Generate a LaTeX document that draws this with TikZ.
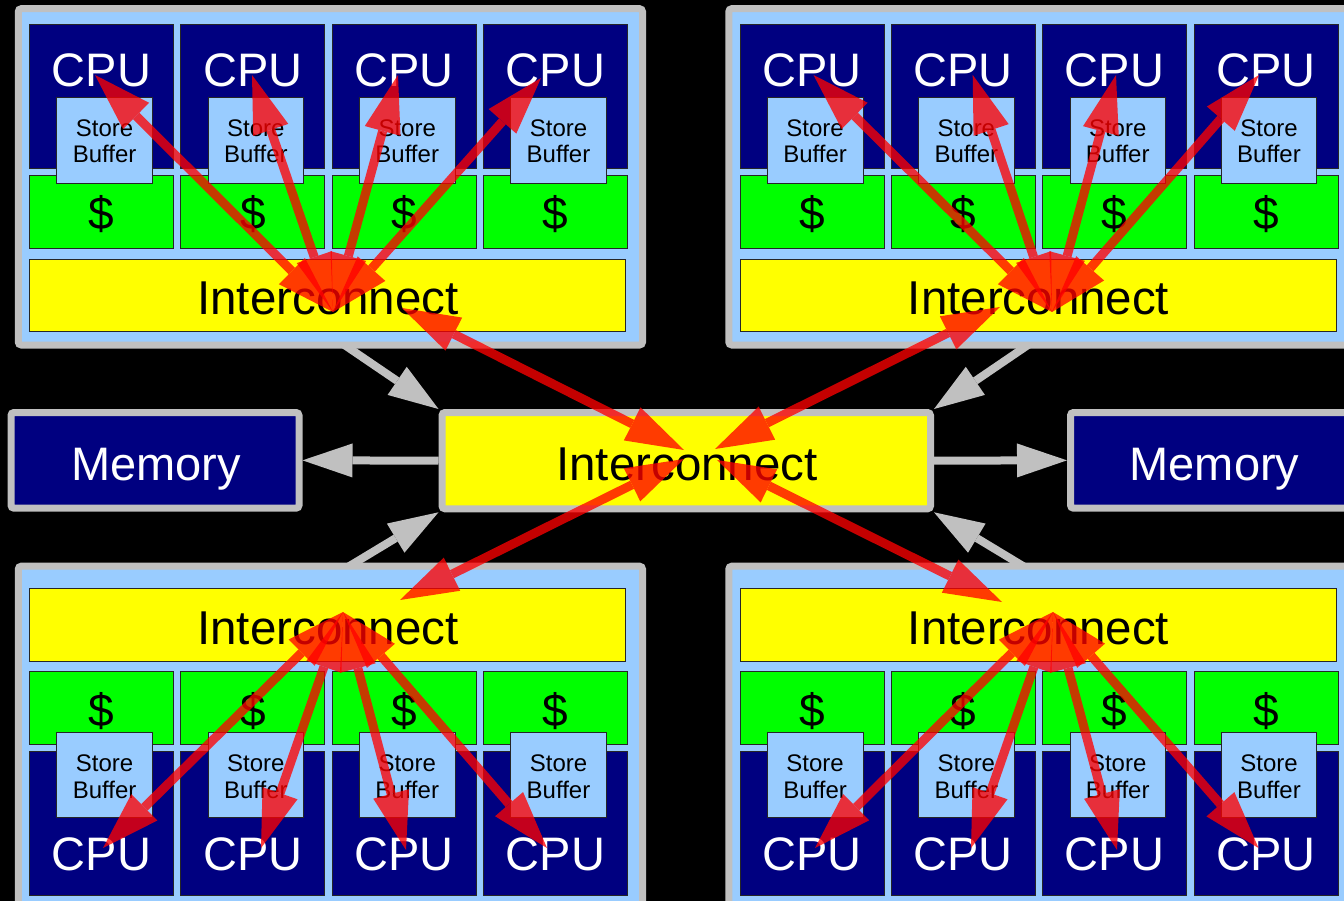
\documentclass[tikz,border=0pt]{standalone}
\usepackage{fontspec}
\setmainfont{Liberation Sans}
\usetikzlibrary{arrows.meta}
\definecolor{silverc}{HTML}{C0C0C0}
\definecolor{lightb}{HTML}{99CCFF}
\definecolor{navyc}{HTML}{000080}
\definecolor{greenc}{HTML}{00FF00}
\definecolor{yellowc}{HTML}{FFFF00}
\definecolor{redc}{HTML}{FF0000}
\tikzset{
  frame/.style={draw=silverc, line width=7pt, fill=lightb, rounded corners=3pt},
  bigframe/.style={rectangle, draw=silverc, line width=7pt, rounded corners=3pt, inner sep=0pt},
  thinbox/.style={rectangle, draw=black!85, line width=0.8pt, inner sep=0pt, outer sep=0pt},
  cpubox/.style={thinbox, fill=navyc, minimum width=144pt},
  cachebox/.style={thinbox, fill=greenc, minimum width=144pt},
  sbbox/.style={thinbox, fill=lightb, minimum width=95.6pt},
  icbox/.style={thinbox, fill=yellowc, minimum width=596.3pt},
  txt/.style={inner sep=0pt, outer sep=0pt, anchor=base},
  cputext/.style={txt, text=white, font=\fontsize{47}{47}\selectfont},
  cashtext/.style={txt, text=black, font=\fontsize{46}{46}\selectfont},
  sbtext/.style={txt, text=black, font=\fontsize{24}{24}\selectfont},
  ictext/.style={txt, text=black, font=\fontsize{47.5}{47.5}\selectfont},
  memtext/.style={txt, text=white, font=\fontsize{47}{47}\selectfont},
  redarrow/.style={draw=redc, fill=redc, line width=9pt,
    >={Triangle[length=58pt,width=37pt,line width=0pt]}, <->},
  redgroup/.style={transparency group, opacity=0.77},
  greyarrow/.style={draw=silverc, fill=silverc, line width=8pt,
    >={Triangle[length=50pt,width=34pt,line width=0pt]}, ->},
}
\newcommand{\topcluster}[2]{%
  \draw[frame] (18.3+#1,8.7) rectangle (642.5+#1,345);
  \foreach \i in {0,1,2,3}{%
    \pgfmathsetmacro{\cx}{#1+101.5+151.3*\i}
    \pgfmathsetmacro{\sx}{#1+104.6+151.3*\i}
    \node[cpubox,minimum height=144.3pt] (#2cpu\i) at (\cx,96.15) {};
    \node[cachebox,minimum height=72.6pt] (#2cache\i) at (\cx,212) {};
    \node[sbbox,minimum height=85.6pt] (#2sb\i) at (\sx,140.5) {};
    \node[cputext] (#2cput\i) at (\cx,86.7) {CPU};
    \node[cashtext] (#2casht\i) at (\cx,230) {\$};
    \node[sbtext] (#2sbta\i) at (\sx,137) {Store};
    \node[sbtext] (#2sbtb\i) at (\sx,163) {Buffer};
  }
  \node[icbox,minimum height=72.4pt] (#2ic) at (327.65+#1,295.5) {};
  \node[ictext] (#2ict) at (328+#1,315) {Interconnect};
}
\newcommand{\botcluster}[2]{%
  \draw[frame] (18.3+#1,566.2) rectangle (642.5+#1,930);
  \foreach \i in {0,1,2,3}{%
    \pgfmathsetmacro{\cx}{#1+101.5+151.3*\i}
    \pgfmathsetmacro{\sx}{#1+104.6+151.3*\i}
    \node[cpubox,minimum height=144pt] (#2cpu\i) at (\cx,823) {};
    \node[cachebox,minimum height=72.3pt] (#2cache\i) at (\cx,707.85) {};
    \node[sbbox,minimum height=85.4pt] (#2sb\i) at (\sx,775) {};
    \node[cputext] (#2cput\i) at (\cx,870) {CPU};
    \node[cashtext] (#2casht\i) at (\cx,726) {\$};
    \node[sbtext] (#2sbta\i) at (\sx,771.7) {Store};
    \node[sbtext] (#2sbtb\i) at (\sx,798.3) {Buffer};
  }
  \node[icbox,minimum height=72.7pt] (#2ic) at (327.65+#1,624.65) {};
  \node[ictext] (#2ict) at (328+#1,644) {Interconnect};
}
\begin{document}
\begin{tikzpicture}[x=1pt,y=-1pt]
\useasboundingbox (0,0) rectangle (1344,901);
\clip (0,0) rectangle (1344,901);
\fill[black] (0,0) rectangle (1344,901);

% central interconnect and memories
\node[bigframe, fill=yellowc, minimum width=488.5pt, minimum height=96.3pt] (cic) at (686.25,460.65) {};
\node[ictext] (cict) at (687,480.7) {Interconnect};
\node[bigframe, fill=navyc, minimum width=288pt, minimum height=95.7pt] (meml) at (155,460.35) {};
\node[memtext] (memlt) at (156,480) {Memory};
\node[bigframe, fill=navyc, minimum width=288pt, minimum height=95.7pt] (memr) at (1214.5,460.35) {};
\node[memtext] (memrt) at (1214.5,480) {Memory};

% grey arrows
\coordinate (gtl) at (318,327);
\coordinate (gtr) at (1054.5,327);
\coordinate (gbl) at (323,582);
\coordinate (gbr) at (1049.5,582);
\draw[greyarrow] (cic.west) -- (meml.east);
\draw[greyarrow] (cic.east) -- (memr.west);
\draw[greyarrow] (gtl) -- (cic.north west);
\draw[greyarrow] (gtr) -- (cic.north east);
\draw[greyarrow] (gbl) -- (cic.south west);
\draw[greyarrow] (gbr) -- (cic.south east);

% clusters
\topcluster{0}{tl}
\topcluster{710.5}{tr}
\botcluster{0}{bl}
\botcluster{710.5}{br}

% red arrows: hubs
\coordinate (tlhub) at (333,312);
\coordinate (trhub) at (1052,312);
\coordinate (blhub) at (343,612);
\coordinate (brhub) at (1053,612);
\coordinate (tlt0) at (95,75);
\coordinate (tlt1) at (252,75);
\coordinate (tlt2) at (398,75);
\coordinate (tlt3) at (541,78);
\coordinate (trt0) at (813.5,75);
\coordinate (trt1) at (972.7,75);
\coordinate (trt2) at (1116,75);
\coordinate (trt3) at (1259,75);
\coordinate (blt0) at (103,848);
\coordinate (blt1) at (261,848);
\coordinate (blt2) at (406,850);
\coordinate (blt3) at (547,848);
\coordinate (brt0) at (815,848);
\coordinate (brt1) at (971,848);
\coordinate (brt2) at (1117,850);
\coordinate (brt3) at (1258.5,848);
\foreach \q in {tl,tr,bl,br}{
  \foreach \i in {0,1,2,3}{
    \begin{scope}[redgroup]
      \draw[redarrow] (\q hub) -- (\q t\i);
    \end{scope}
  }
}
% red arrows: cross
\coordinate (xa1) at (402,308);
\coordinate (xa2) at (684,450);
\coordinate (xb1) at (1000,307);
\coordinate (xb2) at (715,449);
\coordinate (xc1) at (400,600);
\coordinate (xc2) at (684,459);
\coordinate (xd1) at (1002,602);
\coordinate (xd2) at (717,460);
\begin{scope}[redgroup]\draw[redarrow] (xa1) -- (xa2);\end{scope}
\begin{scope}[redgroup]\draw[redarrow] (xb1) -- (xb2);\end{scope}
\begin{scope}[redgroup]\draw[redarrow] (xc1) -- (xc2);\end{scope}
\begin{scope}[redgroup]\draw[redarrow] (xd1) -- (xd2);\end{scope}
\end{tikzpicture}
\end{document}
